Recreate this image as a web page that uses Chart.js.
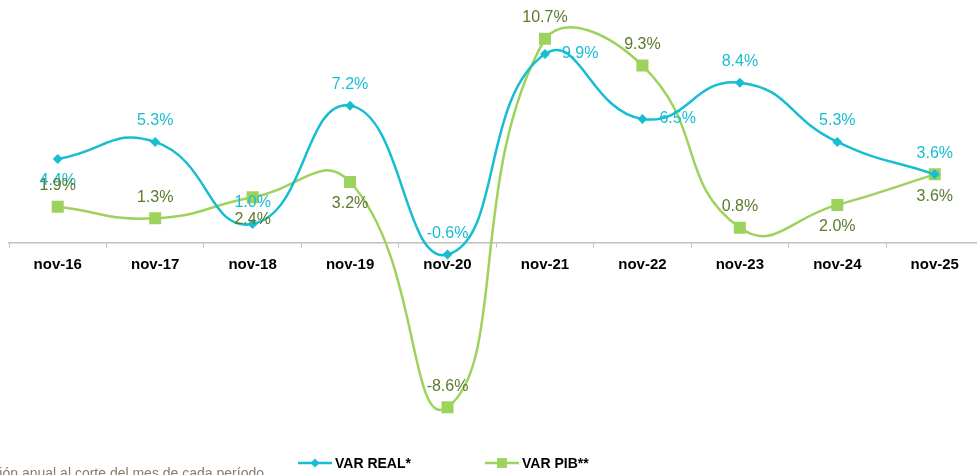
<!DOCTYPE html>
<html>
<head>
<meta charset="utf-8">
<script src="https://cdn.jsdelivr.net/npm/chart.js@4.4.1/dist/chart.umd.min.js"></script>
<style>
    html, body { margin: 0; padding: 0; background: #fff; overflow: hidden; }
    #wrap { position: relative; width: 977px; height: 475px; overflow: hidden; }
    #box { position: absolute; left: 0; top: 0; width: 992px; height: 475px; }
    #note {
        position: absolute; right: 713px; top: 465px;
        font: 14px "Liberation Sans", Arial, sans-serif; color: #8a7a6c;
        white-space: nowrap;
    }
</style>
</head>
<body>
<div id="wrap">
    <div id="box"><canvas id="varChart" width="992" height="475"></canvas></div>
    <div id="note">*Variación anual al corte del mes de cada período</div>
</div>
<script>
var categories = ["nov-16", "nov-17", "nov-18", "nov-19", "nov-20", "nov-21", "nov-22", "nov-23", "nov-24", "nov-25"];
var varReal = [4.4, 5.3, 1.0, 7.2, -0.6, 9.9, 6.5, 8.4, 5.3, 3.6];
var varPib = [1.9, 1.3, 2.4, 3.2, -8.6, 10.7, 9.3, 0.8, 2.0, 3.6];

var CYAN = "#17bdd0";
var GREEN = "#9dd35c";
var OLIVE = "#5b7a2c";

// where each value label sits relative to its point (as in the original)
var realLabelPos = ["below", "above", "above", "above", "above", "right", "right", "above", "above", "above"];
var pibLabelPos = ["above", "above", "below", "below", "above", "above", "above", "above", "below", "below"];

var valueLabels = {
    id: "valueLabels",
    afterDatasetsDraw: function (chart) {
        var ctx = chart.ctx;
        ctx.save();
        ctx.font = "16px 'Liberation Sans', Arial, sans-serif";
        ctx.textBaseline = "middle";
        chart.data.datasets.forEach(function (ds, i) {
            var meta = chart.getDatasetMeta(i);
            var pos = i === 0 ? realLabelPos : pibLabelPos;
            ctx.fillStyle = i === 0 ? CYAN : OLIVE;
            meta.data.forEach(function (pt, j) {
                var txt = ds.data[j].toFixed(1) + "%";
                var x = pt.x, y = pt.y;
                if (pos[j] === "right") {
                    ctx.textAlign = "left";
                    x += 17;
                } else {
                    ctx.textAlign = "center";
                    y += pos[j] === "above" ? -21 : 22;
                }
                ctx.fillText(txt, x, y);
            });
        });
        ctx.restore();
    }
};

var legendDraw = {
    id: "legendDraw",
    afterDraw: function (chart) {
        var ctx = chart.ctx;
        var items = [
            { text: "VAR REAL*", color: CYAN, x: 298, style: "rectRot" },
            { text: "VAR PIB**", color: GREEN, x: 485, style: "rect" }
        ];
        var y = 463;
        ctx.save();
        items.forEach(function (it) {
            ctx.strokeStyle = it.color;
            ctx.lineWidth = 2.5;
            ctx.beginPath();
            ctx.moveTo(it.x, y);
            ctx.lineTo(it.x + 34, y);
            ctx.stroke();
            ctx.fillStyle = it.color;
            Chart.helpers.drawPoint(ctx, { pointStyle: it.style, radius: it.style === "rect" ? 7 : 4.5, rotation: 0 }, it.x + 17, y);
            ctx.fillStyle = "#000";
            ctx.font = "bold 14px 'Liberation Sans Narrow', 'Liberation Sans', Arial, sans-serif";
            ctx.textAlign = "left";
            ctx.textBaseline = "middle";
            ctx.fillText(it.text, it.x + 37, y + 1);
        });
        ctx.restore();
    }
};

var ctx = document.getElementById("varChart").getContext("2d");
var varChart = new Chart(ctx, {
    type: "line",
    data: {
        labels: categories,
        datasets: [{
            label: "VAR REAL*",
            data: varReal,
            borderColor: CYAN,
            backgroundColor: CYAN,
            borderWidth: 2.5,
            pointStyle: "rectRot",
            pointRadius: 5,
            pointBorderWidth: 0,
            tension: 0.5,
            fill: false
        }, {
            label: "VAR PIB**",
            data: varPib,
            borderColor: GREEN,
            backgroundColor: GREEN,
            borderWidth: 2.5,
            pointStyle: "rect",
            pointRadius: 8.5,
            pointBorderWidth: 0,
            tension: 0.5,
            fill: false
        }]
    },
    options: {
        responsive: false,
        animation: false,
        layout: {
            padding: { left: 9, right: 8, top: 14, bottom: 41 }
        },
        plugins: {
            legend: { display: false },
            tooltip: { enabled: false }
        },
        scales: {
            x: {
                position: { y: 0 },
                offset: true,
                grid: {
                    offset: true,
                    drawOnChartArea: false,
                    drawTicks: true,
                    tickLength: 4,
                    color: "#bfbfbf"
                },
                border: { display: true, color: "#bfbfbf", width: 1.5 },
                ticks: {
                    color: "#000",
                    padding: 9,
                    font: { family: "'Liberation Sans', Arial, sans-serif", size: 15, weight: "bold" }
                }
            },
            y: {
                display: false,
                min: -10,
                max: 12
            }
        }
    },
    plugins: [valueLabels, legendDraw]
});
</script>
</body>
</html>
